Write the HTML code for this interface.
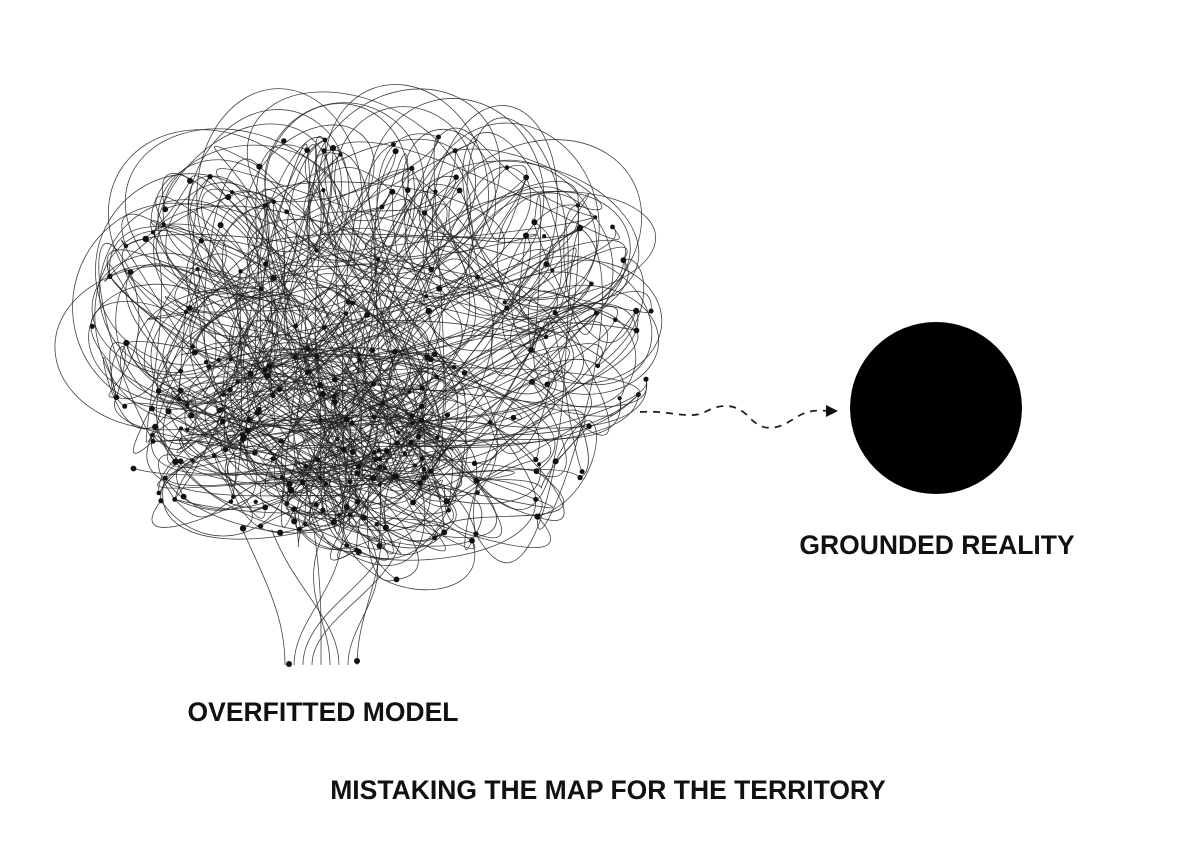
<!DOCTYPE html>
<html><head><meta charset="utf-8"><style>
html,body{margin:0;padding:0;background:#fff;width:1184px;height:864px;overflow:hidden}
svg{position:absolute;left:0;top:0}
.t{font-family:"Liberation Sans",sans-serif;font-weight:bold;fill:#111}
</style></head><body>
<svg id="s" width="1184" height="864" viewBox="0 0 1184 864">
<g id="brain" fill="none" stroke="#222" stroke-width="0.8" stroke-opacity="0.85"></g>
<g id="dots" fill="#111"></g>
<path d="M640 412 C670 410 690 420 705 412 C720 404 735 402 750 418 C765 434 780 428 795 418 C808 410 815 410 830 411" fill="none" stroke="#222" stroke-width="1.8" stroke-dasharray="7,6"/>
<polygon points="838,411 826,405 826,417" fill="#111"/>
<circle cx="936" cy="408" r="86" fill="#000"/>
<text class="t" x="937" y="554" font-size="26.5" text-anchor="middle">GROUNDED REALITY</text>
<text class="t" x="323" y="721" font-size="26.5" text-anchor="middle">OVERFITTED MODEL</text>
<text class="t" x="608" y="799" font-size="26.5" text-anchor="middle">MISTAKING THE MAP FOR THE TERRITORY</text>
</svg>
<script>
(function(){
var seed=12345;function r(){seed=(seed*16807)%2147483647;return (seed-1)/2147483646;}
var NS="http://www.w3.org/2000/svg";
var g=document.getElementById("brain"),d=document.getElementById("dots");
function inside(x,y){var cx=375,cy=355,rx=285,ry=235;var dx=(x-cx)/rx,dy=(y-cy)/ry;
 if(y>500){var w=1-(y-500)/120;dx/=Math.max(0.3,w);} return dx*dx+dy*dy<1 && y<600;}
function pt(bias){var x,y;do{x=90+r()*570;y=110+r()*490;if(bias&&r()<0.3){x=300+(r()-0.5)*300;y=450+(r()-0.5)*200;}}while(!inside(x,y));return [x,y];}
var pts=[];for(var i=0;i<260;i++)pts.push(pt(true));
function path(dd,sw){var p=document.createElementNS(NS,"path");p.setAttribute("d",dd);if(sw)p.setAttribute("stroke-width",sw);g.appendChild(p);}
for(var i=0;i<420;i++){var a=pts[Math.floor(r()*pts.length)],b=pts[Math.floor(r()*pts.length)];
 var c1=[a[0]+(r()-0.5)*260,a[1]+(r()-0.5)*260],c2=[b[0]+(r()-0.5)*260,b[1]+(r()-0.5)*260];
 var ok=function(c){c[0]=Math.max(85,Math.min(665,c[0]));c[1]=Math.max(100,Math.min(610,c[1]));return c;};
 ok(c1);ok(c2);
 path("M"+a[0].toFixed(1)+" "+a[1].toFixed(1)+" C"+c1[0].toFixed(1)+" "+c1[1].toFixed(1)+" "+c2[0].toFixed(1)+" "+c2[1].toFixed(1)+" "+b[0].toFixed(1)+" "+b[1].toFixed(1));}
for(var i=0;i<40;i++){var ang=Math.PI+r()*Math.PI*1.1-0.05;var cx=375+Math.cos(ang)*210,cy=350+Math.sin(ang)*170;
 var e=document.createElementNS(NS,"ellipse");e.setAttribute("cx",cx.toFixed(1));e.setAttribute("cy",cy.toFixed(1));
 e.setAttribute("rx",(50+r()*70).toFixed(1));e.setAttribute("ry",(40+r()*60).toFixed(1));
 e.setAttribute("transform","rotate("+(r()*180).toFixed(0)+" "+cx.toFixed(1)+" "+cy.toFixed(1)+")");g.appendChild(e);}
for(var i=0;i<9;i++){var x0=285+i*9;var x1=240+r()*160;path("M"+x0+" 665 C"+x0+" 620 "+x1+" 590 "+(x1+(r()-0.5)*60).toFixed(1)+" "+(520+r()*40).toFixed(1));}
for(var i=0;i<pts.length;i++){var c=document.createElementNS(NS,"circle");c.setAttribute("cx",pts[i][0].toFixed(1));c.setAttribute("cy",pts[i][1].toFixed(1));c.setAttribute("r",(2+r()*1.2).toFixed(1));d.appendChild(c);}
[[289,664],[357,661]].forEach(function(p){var c=document.createElementNS(NS,"circle");c.setAttribute("cx",p[0]);c.setAttribute("cy",p[1]);c.setAttribute("r",3);d.appendChild(c);});
})();
</script>
</body></html>
